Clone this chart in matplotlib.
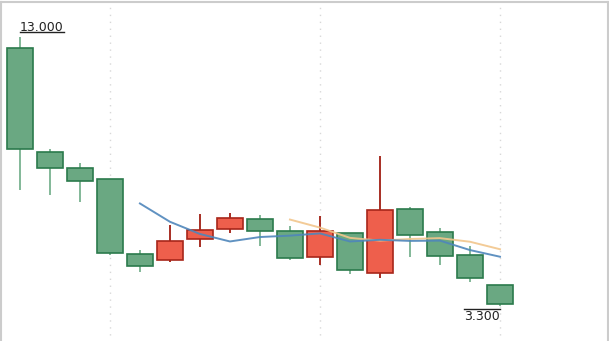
import matplotlib
matplotlib.use("Agg")
import matplotlib.pyplot as plt
from matplotlib.lines import Line2D

# candle data
opens  = [12.60, 8.87, 8.26, 7.88, 5.17, 4.96, 5.71, 6.09, 6.44, 6.01, 5.08, 5.93, 4.50, 6.80, 5.97, 5.13, 4.06]
closes = [8.95, 8.26, 7.82, 5.22, 4.76, 5.64, 6.05, 6.47, 6.01, 5.05, 6.01, 4.60, 6.76, 5.85, 5.10, 4.31, 3.38]
highs  = [13.00, 8.98, 8.47, 7.88, 5.33, 6.23, 6.62, 6.65, 6.57, 6.19, 6.53, 5.93, 8.70, 6.87, 6.11, 5.48, 4.06]
lows   = [7.50, 7.32, 7.06, 5.16, 4.54, 4.90, 5.44, 5.93, 5.48, 4.96, 4.78, 4.46, 4.30, 5.08, 4.78, 4.16, 3.30]

# moving average lines (blue from candle 4, orange from candle 9)
ma5_idx = list(range(4, 17))
ma5 = [7.00, 6.34, 5.90, 5.63, 5.79, 5.84, 5.92, 5.63, 5.69, 5.65, 5.66, 5.32, 5.08]
ma10_idx = list(range(9, 17))
ma10 = [6.42, 6.13, 5.76, 5.66, 5.72, 5.75, 5.62, 5.35]

grid_idx = [3, 10, 16]

up_fill, up_edge, up_wick = "#ee5f4c", "#a8261a", "#a01e12"
dn_fill, dn_edge, dn_wick = "#6aa882", "#2b7a4c", "#78b290"

fig = plt.figure(figsize=(6.09, 3.41), dpi=100)
ax = fig.add_axes([1 / 609, -0.01, 607 / 609, 339 / 341 + 0.01])

for x in grid_idx:
    ax.axvline(x, ymax=0.985, color="#d8d8d8", lw=1, ls=(0, (1, 4)), zorder=0)

n = len(opens)
for i in range(n):
    o, c, h, l = opens[i], closes[i], highs[i], lows[i]
    up = c > o
    ax.vlines(i, l, h, color=up_wick if up else dn_wick, lw=1.3, zorder=1)
    ax.bar(i, abs(c - o), bottom=min(o, c), width=0.85,
           color=up_fill if up else dn_fill,
           edgecolor=up_edge if up else dn_edge, lw=1.2, zorder=2)

ax.plot(ma10_idx, ma10, color="#f2c68c", lw=1.4, alpha=0.9, zorder=3)
ax.plot(ma5_idx, ma5, color="#4f86bb", lw=1.4, alpha=0.9, zorder=3)

ax.set_xlim(-0.63, 19.6)
ax.set_ylim(1.92, 14.26)
ax.set_xticks([])
ax.set_yticks([])
for s in ["top", "left", "right"]:
    ax.spines[s].set_color("#cccccc")
    ax.spines[s].set_linewidth(1.5)
ax.spines["bottom"].set_visible(False)

imax = highs.index(max(highs))
imin = lows.index(min(lows))
t1 = ax.annotate(f"{max(highs):.3f}", (imax, max(highs)), xytext=(0, 2),
                 textcoords="offset points", ha="left", va="bottom",
                 fontsize=9, color="#222222")
t2 = ax.annotate(f"{min(lows):.3f}", (imin, min(lows)), xytext=(0, -3),
                 textcoords="offset points", ha="right", va="top",
                 fontsize=9, color="#222222")

fig.canvas.draw()
r = fig.canvas.get_renderer()
b1 = t1.get_window_extent(r)
b2 = t2.get_window_extent(r)
fig.add_artist(Line2D([b1.x0, b1.x1], [b1.y0 + 2, b1.y0 + 2], transform=None, color="#222222", lw=1))
fig.add_artist(Line2D([b2.x0, b2.x1], [b2.y1 + 1, b2.y1 + 1], transform=None, color="#222222", lw=1))

fig.savefig("out.png", dpi=100)
